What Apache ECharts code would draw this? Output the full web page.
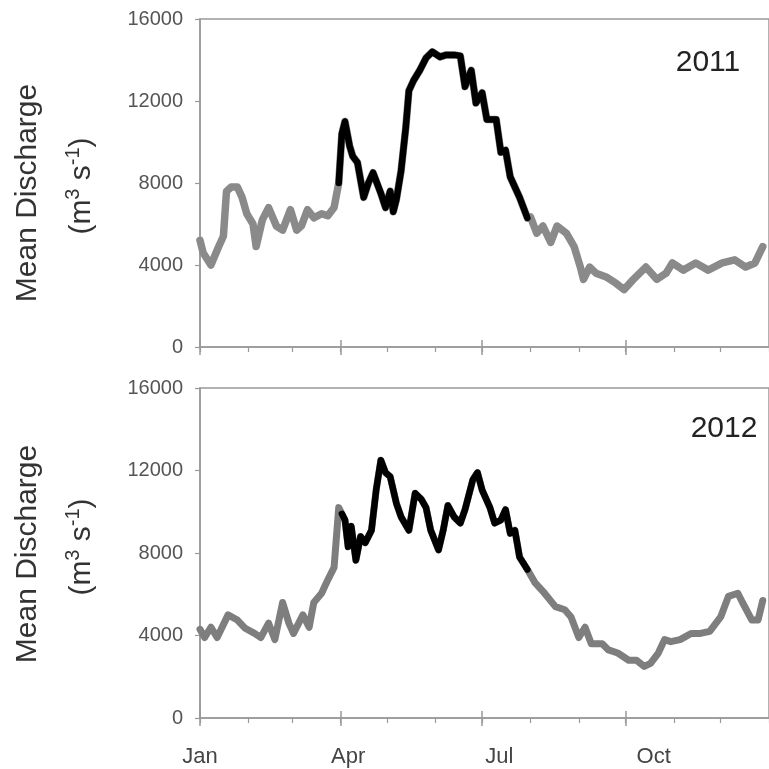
<!DOCTYPE html>
<html><head><meta charset="utf-8">
<script src="https://cdn.jsdelivr.net/npm/echarts@6/dist/echarts.min.js"></script>
<style>html,body{margin:0;padding:0;background:#fff}#c{width:769px;height:769px}</style>
</head><body><div id="c"></div>
<script>
// Day of year (0 = Jan 1) and mean discharge (m3/s)
const days2011 = [0,2,7,12,15,17,20,24,27,30,34,36,40,44,49,53,58,62,65,69,73,78,82,86,89,91,93,96,98,101,105,108,111,116,119,122,124,126,129,132,134,137,141,145,149,154,158,163,167,169,170,174,177,181,184,190,193,196,199,205,210,212,216,220,225,229,235,240,244,246,250,254,261,267,272,278,286,293,299,303,310,318,326,335,343,350,356,361];
const flow2011 = [5200,4600,4000,4900,5400,7600,7800,7800,7300,6500,6000,4900,6200,6800,5900,5700,6700,5700,5900,6700,6300,6500,6400,6800,8000,10400,11000,9800,9300,9000,7300,8000,8500,7500,6800,7600,6600,7200,8600,10700,12500,13000,13500,14100,14400,14150,14250,14250,14200,13200,12700,13500,11900,12400,11100,11100,9500,9600,8300,7300,6300,6350,5550,5900,5100,5900,5550,4900,3900,3300,3900,3600,3400,3100,2800,3300,3900,3300,3600,4100,3750,4100,3750,4100,4250,3900,4100,4900];
const days2012 = [0,3,7,11,18,24,29,35,39,44,48,53,57,60,66,70,73,78,82,86,89,91,93,95,97,100,103,106,110,113,116,119,122,126,129,134,138,142,145,148,153,156,159,163,167,170,175,178,181,186,189,193,196,199,202,205,210,215,221,228,234,238,243,247,251,258,262,268,275,280,285,289,294,298,302,308,315,321,327,334,339,345,348,354,358,361];
const flow2012 = [4300,3900,4400,3900,5000,4750,4350,4100,3900,4600,3800,5600,4600,4100,5000,4400,5600,6050,6700,7300,10200,9900,9600,8300,9300,7650,8800,8500,9100,11050,12500,11900,11700,10400,9750,9100,10900,10600,10200,9100,8150,9100,10300,9750,9450,10100,11550,11900,11050,10200,9450,9600,10100,8950,9100,7800,7200,6550,6050,5400,5250,4900,3900,4400,3600,3600,3300,3150,2800,2800,2500,2650,3150,3800,3700,3800,4100,4100,4200,4900,5900,6050,5600,4750,4750,5700];
// Highlighted (black) period, in day of year
const black2011 = [89, 210];
const black2012 = [90, 211];
// Axis ticks
const monthDays = [0,31,59,90,120,151,181,212,243,273,304,334,365];
const quarterDays = [0,90,181,273];
const quarterLabels = ['Jan','Apr','Jul','Oct'];
const quarterLabelDays = [0,95,192,291];
const yearLabels = ['2011','2012'];

const FONT = 'Liberation Sans, Arial, sans-serif';
const AX = '#999999';

function pairs(days, vals, range) {
  return days.map((d,i) => (!range || (d >= range[0] && d <= range[1])) ? [d, vals[i]] : [d, null]);
}

const grids = [
  {left: 200, right: -5, top: 19, bottom: 422},
  {left: 200, right: -5, top: 388, bottom: 51}
];

const xAxes = [], yAxes = [];
grids.forEach((g, gi) => {
  const last = gi === 1;
  xAxes.push({gridIndex: gi, type: 'value', min: 0, max: 365, position: 'bottom',
    axisLine: {show: true, lineStyle: {color: AX, width: 1.5}},
    axisTick: {show: true, customValues: monthDays, length: 5, lineStyle: {color: AX, width: 1.2}},
    axisLabel: {show: false}, splitLine: {show: false}});
  xAxes.push({gridIndex: gi, type: 'value', min: 0, max: 365, position: 'bottom',
    axisLine: {show: false},
    axisTick: {show: true, inside: true, customValues: quarterDays, length: 7, lineStyle: {color: AX, width: 1.5}},
    axisLabel: {show: false}, splitLine: {show: false}});
  xAxes.push({gridIndex: gi, type: 'value', min: 0, max: 365, position: 'bottom',
    axisLine: {show: false},
    axisTick: {show: true, customValues: quarterDays, length: 8, lineStyle: {color: AX, width: 1.5}},
    axisLabel: {show: last, customValues: quarterLabelDays, margin: 28,
      fontSize: 22, fontFamily: FONT, color: '#444',
      formatter: v => quarterLabels[quarterLabelDays.indexOf(v)] || ''},
    splitLine: {show: false}});
  yAxes.push({gridIndex: gi, type: 'value', min: 0, max: 16000, interval: 4000,
    axisLine: {show: true, lineStyle: {color: AX, width: 1.5}},
    axisTick: {show: true, length: 5, lineStyle: {color: AX, width: 1.2}},
    axisLabel: {margin: 17, fontSize: 20, fontFamily: FONT, color: '#555', formatter: v => String(v)},
    splitLine: {show: false}});
});

function lineSeries(gi, data, color, width, z) {
  return {type: 'line', xAxisIndex: gi*3, yAxisIndex: gi, data: data, showSymbol: false, symbol: 'none',
    connectNulls: false, z: z, animation: false,
    lineStyle: {color: color, width: width, join: 'round', cap: 'round'}};
}

const series = [
  lineSeries(0, pairs(days2011, flow2011), '#8a8a8a', 7.5, 2),
  lineSeries(0, pairs(days2011, flow2011, black2011), '#000000', 6.5, 3),
  lineSeries(1, pairs(days2012, flow2012), '#7e7e7e', 7, 2),
  lineSeries(1, pairs(days2012, flow2012, black2012), '#000000', 6.5, 3)
];

const rich = {
  n: {fontSize: 30, fontFamily: FONT, fill: '#333', color: '#333', lineHeight: 34, verticalAlign: 'bottom'},
  s: {fontSize: 20, fontFamily: FONT, fill: '#333', color: '#333', lineHeight: 20, verticalAlign: 'top'}
};
const graphics = [];
[[193, 186], [554, 547]].forEach((cy) => {
  graphics.push({type: 'text', x: 28, y: cy[0], rotation: Math.PI/2,
    style: {text: 'Mean Discharge', fontSize: 30, fontFamily: FONT, fill: '#333', align: 'center', verticalAlign: 'middle'}});
  graphics.push({type: 'text', x: 80, y: cy[1], rotation: Math.PI/2,
    style: {text: '{n|(m}{s|3}{n| s}{s|-1}{n|)}', rich: rich, align: 'center', verticalAlign: 'middle'}});
});
graphics.push({type: 'text', x: 708, y: 63, style: {text: yearLabels[0], fontSize: 30, fontFamily: FONT, fill: '#222', align: 'center', verticalAlign: 'middle'}});
graphics.push({type: 'text', x: 724, y: 429, style: {text: yearLabels[1], fontSize: 30, fontFamily: FONT, fill: '#222', align: 'center', verticalAlign: 'middle'}});

const chart = echarts.init(document.getElementById('c'), null, {renderer: 'canvas'});
chart.setOption({
  animation: false,
  backgroundColor: '#fff',
  grid: grids.map(g => Object.assign({show: true, borderColor: AX, borderWidth: 1.5, backgroundColor: 'transparent'}, g)),
  xAxis: xAxes,
  yAxis: yAxes,
  series: series,
  graphic: graphics
});
</script></body></html>
